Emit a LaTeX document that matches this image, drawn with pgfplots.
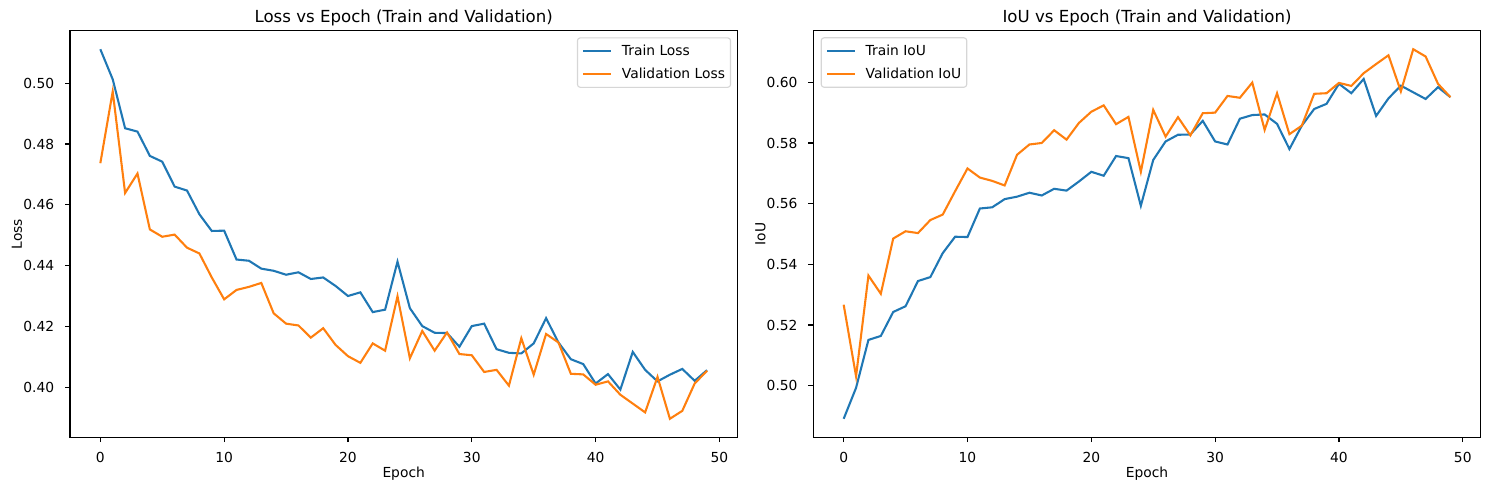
\documentclass[border=0pt]{standalone}
\usepackage{fontspec}
\setmainfont{DejaVu Sans}
\usepackage{pgfplots}
\pgfplotsset{compat=1.18}

\definecolor{tabblue}{HTML}{1F77B4}
\definecolor{taborange}{HTML}{FF7F0E}
\definecolor{legframe}{HTML}{D6D6D6}

% 1 px of the reference = 0.72bp (matplotlib at 100 dpi)
\pgfplotsset{
  mpl/.style={
    scale only axis,
    width=480.5bp, height=292.75bp,
    anchor=south west,
    xmin=-2.45, xmax=51.45,
    xtick={0,10,20,30,40,50},
    xtick pos=left, ytick pos=left,
    tick align=outside,
    major tick length=3.5bp,
    axis line style={line width=0.8bp},
    every tick/.style={line width=0.8bp, black},
    /pgf/number format/assume math mode=true,
    ticklabel style={font=\fontsize{10}{12}\selectfont},
    xticklabel style={anchor=base, inner sep=0pt, yshift=-14.4bp},
    yticklabel style={anchor=east, inner sep=0pt, xshift=-7.7bp,
      /pgf/number format/.cd, fixed, fixed zerofill, precision=2},
    scaled y ticks=false,
    every axis title shift=0pt,
    title style={at={(axis description cs:0.5,1.0204)}, anchor=base,
      inner sep=0pt, font=\fontsize{12}{14.4}\selectfont},
    xlabel style={at={(axis description cs:0.5,-0.0983)}, anchor=base,
      inner sep=0pt, font=\fontsize{10}{12}\selectfont},
    ylabel style={at={(axis description cs:-0.072,0.5)}, anchor=base,
      inner sep=0pt, font=\fontsize{10}{12}\selectfont},
    legend cell align=left,
    legend image code/.code={\draw[##1, line width=1.5bp] (0bp,0bp) -- (20bp,0bp);},
    legend style={draw=legframe, line width=0.8bp, rounded corners=2bp,
      fill=white, font=\fontsize{10}{12}\selectfont,
      inner xsep=3.5bp, inner ysep=4.5bp, row sep=6.5bp,
      nodes={inner sep=0.5bp},
      /tikz/every odd column/.append style={column sep=6.5bp}},
    every axis plot/.append style={line width=1.5bp},
  }
}

\begin{document}
\begin{tikzpicture}
\useasboundingbox (0,0) rectangle (1072.08bp,352.8bp);

\begin{axis}[mpl, at={(50.4bp,37.94bp)},
  ymin=0.3835, ymax=0.5173,
  ytick={0.40,0.42,0.44,0.46,0.48,0.50},
  title={Loss vs Epoch (Train and Validation)},
  xlabel={Epoch}, ylabel={Loss},
  legend style={at={(axis description cs:0.9906,0.9838)}, anchor=north east}]
\addplot[tabblue] coordinates {
(0,0.5112) (1,0.5013) (2,0.4852) (3,0.4841) (4,0.4761) (5,0.4742)
(6,0.4660) (7,0.4647) (8,0.4569) (9,0.4514) (10,0.4515) (11,0.4420)
(12,0.4416) (13,0.4390) (14,0.4383) (15,0.4370) (16,0.4378) (17,0.4356)
(18,0.4361) (19,0.4333) (20,0.4300) (21,0.4312) (22,0.4247) (23,0.4255)
(24,0.4413) (25,0.4260) (26,0.4201) (27,0.4179) (28,0.4178) (29,0.4133)
(30,0.4201) (31,0.4209) (32,0.4125) (33,0.4113) (34,0.4111) (35,0.4144)
(36,0.4227) (37,0.4147) (38,0.4092) (39,0.4076) (40,0.4012) (41,0.4043)
(42,0.3992) (43,0.4116) (44,0.4057) (45,0.4019) (46,0.4041) (47,0.4060)
(48,0.4021) (49,0.4056)};
\addlegendentry{Train Loss}
\addplot[taborange] coordinates {
(0,0.4737) (1,0.4973) (2,0.4639) (3,0.4703) (4,0.4519) (5,0.4495)
(6,0.4502) (7,0.4459) (8,0.4440) (9,0.4361) (10,0.4289) (11,0.4320)
(12,0.4330) (13,0.4343) (14,0.4243) (15,0.4209) (16,0.4203) (17,0.4163)
(18,0.4194) (19,0.4139) (20,0.4102) (21,0.4080) (22,0.4144) (23,0.4120)
(24,0.4299) (25,0.4095) (26,0.4185) (27,0.4120) (28,0.4180) (29,0.4109)
(30,0.4105) (31,0.4050) (32,0.4057) (33,0.4005) (34,0.4161) (35,0.4041)
(36,0.4175) (37,0.4147) (38,0.4044) (39,0.4042) (40,0.4008) (41,0.4019)
(42,0.3975) (43,0.3946) (44,0.3917) (45,0.4034) (46,0.3896) (47,0.3922)
(48,0.4012) (49,0.4054)};
\addlegendentry{Validation Loss}
\end{axis}

\begin{axis}[mpl, at={(585.6bp,37.94bp)},
  ymin=0.4830, ymax=0.6170,
  ytick={0.50,0.52,0.54,0.56,0.58,0.60},
  title={IoU vs Epoch (Train and Validation)},
  xlabel={Epoch}, ylabel={IoU},
  legend style={at={(axis description cs:0.0111,0.984)}, anchor=north west}]
\addplot[tabblue] coordinates {
(0,0.4891) (1,0.4993) (2,0.5151) (3,0.5164) (4,0.5243) (5,0.5262)
(6,0.5345) (7,0.5358) (8,0.5437) (9,0.5491) (10,0.5490) (11,0.5584)
(12,0.5588) (13,0.5615) (14,0.5623) (15,0.5636) (16,0.5627) (17,0.5649)
(18,0.5643) (19,0.5673) (20,0.5705) (21,0.5692) (22,0.5757) (23,0.5750)
(24,0.5593) (25,0.5744) (26,0.5805) (27,0.5827) (28,0.5828) (29,0.5873)
(30,0.5805) (31,0.5795) (32,0.5880) (33,0.5892) (34,0.5894) (35,0.5863)
(36,0.5780) (37,0.5857) (38,0.5912) (39,0.5929) (40,0.5995) (41,0.5964)
(42,0.6011) (43,0.5889) (44,0.5947) (45,0.5989) (46,0.5967) (47,0.5945)
(48,0.5984) (49,0.5951)};
\addlegendentry{Train IoU}
\addplot[taborange] coordinates {
(0,0.5267) (1,0.5031) (2,0.5363) (3,0.5303) (4,0.5485) (5,0.5509)
(6,0.5503) (7,0.5546) (8,0.5564) (9,0.5641) (10,0.5716) (11,0.5686)
(12,0.5675) (13,0.5660) (14,0.5761) (15,0.5795) (16,0.5800) (17,0.5842)
(18,0.5811) (19,0.5866) (20,0.5903) (21,0.5924) (22,0.5862) (23,0.5886)
(24,0.5705) (25,0.5909) (26,0.5821) (27,0.5885) (28,0.5825) (29,0.5898)
(30,0.5900) (31,0.5955) (32,0.5949) (33,0.5999) (34,0.5843) (35,0.5964)
(36,0.5829) (37,0.5857) (38,0.5962) (39,0.5964) (40,0.5998) (41,0.5988)
(42,0.6030) (43,0.6060) (44,0.6089) (45,0.5970) (46,0.6109) (47,0.6085)
(48,0.5995) (49,0.5951)};
\addlegendentry{Validation IoU}
\end{axis}
\end{tikzpicture}
\end{document}
